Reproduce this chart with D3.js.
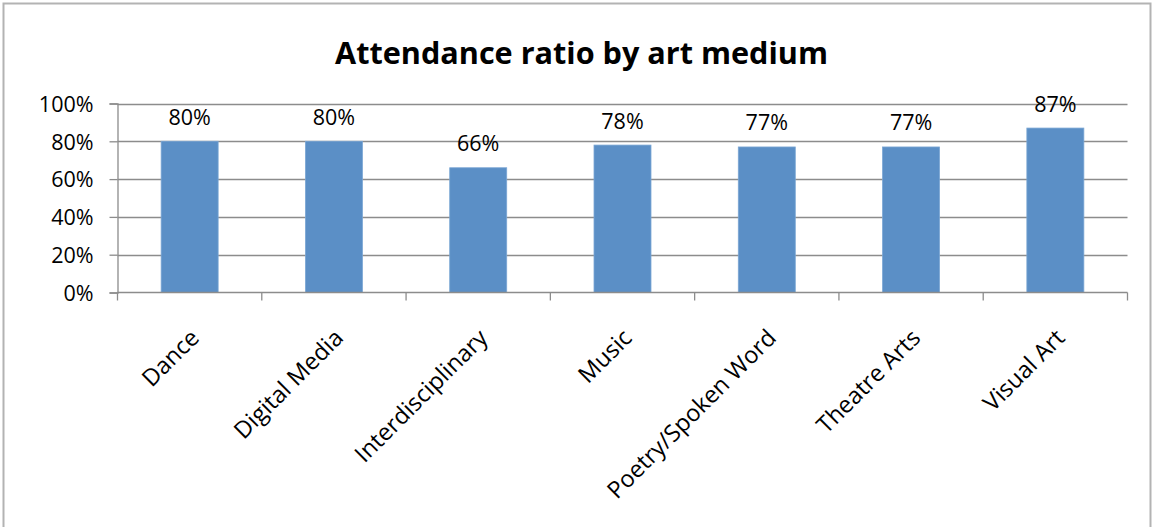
<!DOCTYPE html>
<html>
<head>
<meta charset="utf-8">
<script src="https://cdn.jsdelivr.net/npm/d3@7"></script>
<style>
  html, body { margin: 0; padding: 0; background: #fff; }
  svg { display: block; }
  text { font-family: "Open Sans", "Liberation Sans", sans-serif; fill: #000; }
</style>
</head>
<body>
<svg id="chart" width="1157" height="527"></svg>
<script>
// Chart content
const title = "Attendance ratio by art medium";
const categories = ["Dance", "Digital Media", "Interdisciplinary", "Music", "Poetry/Spoken Word", "Theatre Arts", "Visual Art"];
const attendance = [0.80, 0.80, 0.66, 0.78, 0.77, 0.77, 0.87];
const yTicks = [0, 0.2, 0.4, 0.6, 0.8, 1.0];

const W = 1157, H = 527;
const plot = { left: 117.5, right: 1127.5, top: 103.5, bottom: 292.5 };

const svg = d3.select("#chart");

// outer chart frame
svg.append("rect")
  .attr("x", 3.5).attr("y", 3.5)
  .attr("width", 1147).attr("height", 560)
  .attr("fill", "none").attr("stroke", "#b3b3b3").attr("stroke-width", 2);

const x = d3.scaleBand().domain(categories).range([plot.left, plot.right]).padding(0);
const y = d3.scaleLinear().domain([0, 1]).range([plot.bottom, plot.top]);
const fmt = d3.format(".0%");

// horizontal gridlines
svg.append("g").selectAll("line")
  .data(yTicks.filter(d => d > 0))
  .join("line")
  .attr("x1", plot.left).attr("x2", plot.right)
  .attr("y1", d => Math.round(y(d)) + 0.5).attr("y2", d => Math.round(y(d)) + 0.5)
  .attr("stroke", "#8c8c8c").attr("stroke-width", 1.3);

// y axis
const yAxis = svg.append("g")
  .attr("transform", `translate(${plot.left},0)`)
  .call(d3.axisLeft(y).tickValues(yTicks).tickFormat(fmt).tickSize(8).tickPadding(16));
yAxis.select(".domain").attr("stroke", "#8c8c8c").attr("stroke-width", 1.3);
yAxis.selectAll(".tick line").attr("stroke", "#8c8c8c").attr("stroke-width", 1.3);
yAxis.selectAll(".tick text")
  .attr("font-family", "Open Sans, sans-serif")
  .attr("font-size", 21.5).attr("fill", "#000")
  .attr("dy", "0.36em");

// bars
const barW = x.bandwidth() * 0.395;
svg.append("g").selectAll("rect")
  .data(categories.map((c, i) => ({ c, v: attendance[i] })))
  .join("rect")
  .attr("x", d => x(d.c) + (x.bandwidth() - barW) / 2)
  .attr("width", barW)
  .attr("y", d => y(d.v))
  .attr("height", d => y(0) - y(d.v))
  .attr("fill", "#5b8fc6")
  .attr("stroke", "#7aa6d4").attr("stroke-width", 0.8);

// x axis line with boundary ticks
svg.append("line")
  .attr("x1", plot.left).attr("x2", plot.right)
  .attr("y1", y(0)).attr("y2", y(0))
  .attr("stroke", "#8c8c8c").attr("stroke-width", 1.3);
const bounds = categories.map(c => x(c)).concat([plot.right]);
svg.append("g").selectAll("line")
  .data(bounds)
  .join("line")
  .attr("x1", d => d).attr("x2", d => d)
  .attr("y1", y(0)).attr("y2", y(0) + 8)
  .attr("stroke", "#8c8c8c").attr("stroke-width", 1.3);

// category labels, rotated
svg.append("g").selectAll("text")
  .data(categories)
  .join("text")
  .attr("transform", d => `translate(${x(d) + x.bandwidth() / 2 + 5},${y(0) + 41}) rotate(-45)`)
  .attr("text-anchor", "end")
  .attr("dy", "0.35em")
  .attr("font-size", 23.5)
  .text(d => d);

// value labels
svg.append("g").selectAll("text")
  .data(categories.map((c, i) => ({ c, v: attendance[i] })))
  .join("text")
  .attr("x", d => x(d.c) + x.bandwidth() / 2)
  .attr("y", d => y(d.v) - 16.5)
  .attr("text-anchor", "middle")
  .attr("font-size", 21.5)
  .text(d => fmt(d.v));

// title, sized to its target width
const t = svg.append("text")
  .attr("x", 581.5).attr("y", 64)
  .attr("text-anchor", "middle")
  .attr("font-weight", "bold")
  .attr("font-size", 100)
  .text(title);
const w100 = t.node().getComputedTextLength();
t.attr("font-size", 100 * 493 / w100);
</script>
</body>
</html>
